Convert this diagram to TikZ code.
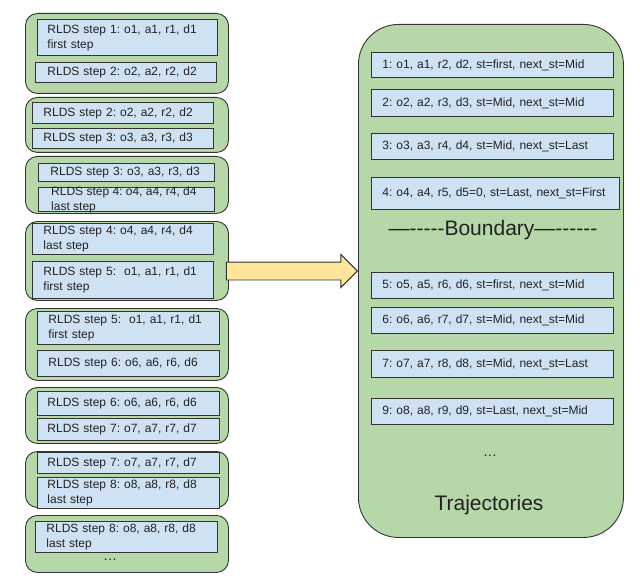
\documentclass[tikz,border=0pt]{standalone}
\usepackage{fontspec}
\setmainfont{Liberation Sans}[Ligatures=TeXOff]
\usetikzlibrary{shapes.arrows}
\definecolor{grn}{HTML}{B6D7A8}
\definecolor{blu}{HTML}{CFE2F3}
\definecolor{ylw}{HTML}{FFE599}
\definecolor{edge}{HTML}{333333}
\definecolor{ink}{HTML}{222222}
\frenchspacing
\tikzset{
  grp/.style={draw=edge, fill=grn, line width=0.9pt, rounded corners=12pt, anchor=north west, inner sep=0pt},
  lb/.style={draw=edge, fill=blu, line width=0.9pt, anchor=north west, inner ysep=0pt, align=left, text=ink, font=\fontsize{12}{15}\selectfont\frenchspacing},
  rb/.style={draw=edge, fill=blu, line width=0.9pt, anchor=north west, inner xsep=11pt, inner ysep=0pt, align=left, text=ink, font=\fontsize{12}{15}\selectfont\frenchspacing},
  bigbox/.style={draw=edge, fill=grn, line width=0.9pt, rounded corners=40pt, anchor=north west, inner sep=0pt},
  plain/.style={text=ink, inner sep=0pt},
  bigarrow/.style={single arrow, draw=edge, fill=ylw, line width=0.9pt, inner xsep=0pt, inner ysep=8.5pt, single arrow head extend=7.5pt, minimum height=131pt}
}
\begin{document}
\begin{tikzpicture}[x=1pt,y=-1pt]
\useasboundingbox (0,0) rectangle (640,583);
% left groups
\node[grp, minimum width=203pt, minimum height=80pt] (g1) at (25,13) {};
\node[lb, minimum width=180pt, minimum height=36pt, inner xsep=10pt, text width=160pt] (b1a) at (37,19) {RLDS step 1: o1, a1, r1, d1\\first step};
\node[lb, minimum width=181pt, minimum height=20pt, inner xsep=12pt, text width=157pt] (b1b) at (35,62) {RLDS step 2: o2, a2, r2, d2};

\node[grp, minimum width=203pt, minimum height=55pt] (g2) at (25,97) {};
\node[lb, minimum width=181pt, minimum height=21pt, inner xsep=11pt, text width=159pt] (b2a) at (32,102) {RLDS step 2: o2, a2, r2, d2};
\node[lb, minimum width=181pt, minimum height=20pt, inner xsep=11pt, text width=159pt] (b2b) at (32,128) {RLDS step 3: o3, a3, r3, d3};

\node[grp, minimum width=203pt, minimum height=57pt] (g3) at (25,156) {};
\node[lb, minimum width=176pt, minimum height=18pt, inner xsep=12pt, text width=152pt] (b3a) at (38,163) {RLDS step 3: o3, a3, r3, d3};
\node[lb, minimum width=176pt, minimum height=24pt, inner sep=0pt] (b3b) at (38,187) {};
\node[plain, anchor=north west, align=left, font=\fontsize{12}{15}\selectfont\frenchspacing] (t3b) at (51,187) {RLDS step 4: o4, a4, r4, d4\\last step};

\node[grp, minimum width=203pt, minimum height=79pt] (g4) at (25,221) {};
\node[lb, minimum width=181pt, minimum height=31pt, inner xsep=11pt, text width=159pt] (b4a) at (32,223) {RLDS step 4: o4, a4, r4, d4\\last step};
\node[lb, minimum width=181pt, minimum height=37pt, inner xsep=11pt, text width=159pt] (b4b) at (32,261) {RLDS step 5:\ \ o1, a1, r1, d1\\first step};

\node[grp, minimum width=203pt, minimum height=72pt] (g5) at (25,308) {};
\node[lb, minimum width=182pt, minimum height=33pt, inner xsep=11pt, text width=160pt] (b5a) at (37,311) {RLDS step 5:\ \ o1, a1, r1, d1\\first step};
\node[lb, minimum width=182pt, minimum height=26pt, inner xsep=11pt, text width=160pt] (b5b) at (37,350) {RLDS step 6: o6, a6, r6, d6};

\node[grp, minimum width=203pt, minimum height=56pt] (g6) at (25,387) {};
\node[lb, minimum width=182pt, minimum height=24pt, inner xsep=10pt, text width=162pt] (b6a) at (37,391) {RLDS step 6: o6, a6, r6, d6};
\node[lb, minimum width=182pt, minimum height=22pt, inner xsep=10pt, text width=162pt] (b6b) at (37,418) {RLDS step 7: o7, a7, r7, d7};

\node[grp, minimum width=203pt, minimum height=56pt] (g7) at (25,451) {};
\node[lb, minimum width=182pt, minimum height=21pt, inner xsep=10pt, text width=162pt] (b7a) at (37,452) {RLDS step 7: o7, a7, r7, d7};
\node[lb, minimum width=182pt, minimum height=31pt, inner xsep=10pt, text width=162pt] (b7b) at (37,477) {RLDS step 8: o8, a8, r8, d8\\last step};

\node[grp, minimum width=203pt, minimum height=57pt] (g8) at (25,515) {};
\node[lb, minimum width=182pt, minimum height=31pt, inner xsep=11pt, text width=160pt] (b8a) at (35,521) {RLDS step 8: o8, a8, r8, d8\\last step};
\node[plain, font=\fontsize{14}{17}\selectfont] (ldots) at (110,560) {\dots};

% right trajectories box
\node[bigbox, minimum width=265pt, minimum height=513pt] (traj) at (358,24) {};
\node[rb, minimum width=242pt, minimum height=25pt, text width=220pt] (r1) at (371,52) {1: o1, a1, r2, d2, st=first, next\_st=Mid};
\node[rb, minimum width=242pt, minimum height=27pt, text width=220pt] (r2) at (371,89) {2: o2, a2, r3, d3, st=Mid, next\_st=Mid};
\node[rb, minimum width=242pt, minimum height=26pt, text width=220pt] (r3) at (371,133) {3: o3, a3, r4, d4, st=Mid, next\_st=Last};
\node[rb, minimum width=248pt, minimum height=32pt, text width=226pt] (r4) at (371,177) {4: o4, a4, r5, d5=0, st=Last, next\_st=First};
\node[plain, font=\fontsize{21}{25}\selectfont] (bnd) at (493,230) {—-----Boundary—------};
\node[rb, minimum width=242pt, minimum height=26pt, text width=220pt] (r5) at (371,272) {5: o5, a5, r6, d6, st=first, next\_st=Mid};
\node[rb, minimum width=242pt, minimum height=26pt, text width=220pt] (r6) at (371,307) {6: o6, a6, r7, d7, st=Mid, next\_st=Mid};
\node[rb, minimum width=242pt, minimum height=27pt, text width=220pt] (r7) at (371,350) {7: o7, a7, r8, d8, st=Mid, next\_st=Last};
\node[rb, minimum width=242pt, minimum height=26pt, text width=220pt] (r9) at (371,398) {9: o8, a8, r9, d9, st=Last, next\_st=Mid};
\node[plain, font=\fontsize{14}{17}\selectfont] (rdots) at (490,456) {\dots};
\node[plain, font=\fontsize{21}{25}\selectfont] (ttl) at (489,505) {Trajectories};

% arrow from group 4 to trajectories
\node[bigarrow, anchor=tip] (arr) at (traj.west |- 0,271) {};
\end{tikzpicture}
\end{document}
